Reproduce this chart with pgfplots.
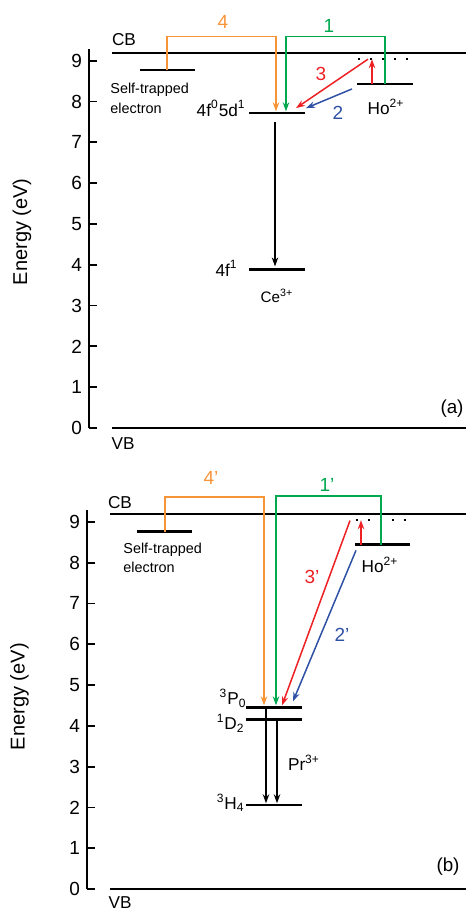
\documentclass[border=0pt]{standalone}
\usepackage{fontspec}
\setmainfont{Liberation Sans}
\usepackage{pgfplots}
\pgfplotsset{compat=1.18}
\usetikzlibrary{arrows.meta}
\definecolor{cor}{RGB}{247,148,56}
\definecolor{cgr}{RGB}{0,168,80}
\definecolor{cre}{RGB}{237,32,36}
\definecolor{cbl}{RGB}{46,80,165}
\begin{document}
\begin{tikzpicture}
\useasboundingbox (0,0) rectangle (233pt,455pt);
\pgfplotsset{
 lvl/.style={line width=1.3pt, black},
 band/.style={line width=1pt, black},
 tr/.style={line width=0.75pt, -{Stealth[length=4.5pt,width=3.2pt]}},
 dots/.style={black, line width=0.9pt, dash pattern=on 0.9pt off 5.1pt},
 myaxis/.style={x=0.5pt, y=20.4pt, ymin=0, ymax=9.28, clip=false,
   axis x line=none, axis y line*=left, ytick={0,...,9},
   tick align=inside, major tick length=4pt,
   axis line style={line width=0.9pt},
   every tick/.style={line width=0.9pt, black},
   yticklabel style={font=\fontsize{9.5}{11}\selectfont},
   /pgf/number format/assume math mode=true,
   ylabel={Energy (eV)},
   ylabel style={font=\fontsize{10}{12}\selectfont, anchor=center},
   anchor=south west}
}
% ---------------- panel (a)
\begin{axis}[myaxis, at={(44.5pt,241pt)}, xmin=89, xmax=466,
  ylabel style={at={(axis description cs:-0.178,0.518)}}]
\addplot[band] coordinates {(112,9.18) (466,9.18)};
\addplot[band] coordinates {(112,0) (466,0)};
\addplot[lvl] coordinates {(140,8.77) (195,8.77)};
\addplot[lvl] coordinates {(249,7.72) (305,7.72)};
\addplot[lvl] coordinates {(249,3.89) (305,3.89)};
\addplot[lvl] coordinates {(357,8.43) (413,8.43)};
\addplot[dots] coordinates {(358,9.05) (412,9.05)};
\addplot[tr, cor] coordinates {(167,8.77) (167,9.59) (276,9.59) (276,7.76)};
\addplot[tr, cgr] coordinates {(385,8.43) (385,9.59) (286,9.59) (286,7.76)};
\addplot[tr, cre] coordinates {(372,8.43) (372,9.04)};
\addplot[tr, cre] coordinates {(368,9.04) (296,7.84)};
\addplot[tr, cbl] coordinates {(352,8.31) (306,7.84)};
\addplot[tr, black] coordinates {(275,7.5) (275,3.96)};
\node[font=\fontsize{9.5}{11}\selectfont, text=cor] at (axis cs:223,9.95) {4};
\node[font=\fontsize{9.5}{11}\selectfont, text=cgr] at (axis cs:329,9.85) {1};
\node[font=\fontsize{9.5}{11}\selectfont, text=cre] at (axis cs:321,8.68) {3};
\node[font=\fontsize{9.5}{11}\selectfont, text=cbl] at (axis cs:338,7.72) {2};
\node[font=\fontsize{8.6}{10}\selectfont] at (axis cs:124,9.51) {CB};
\node[font=\fontsize{8.6}{10}\selectfont] at (axis cs:123,-0.39) {VB};
\node[font=\fontsize{9.4}{11}\selectfont] at (axis cs:452,0.47) {(a)};
\node[font=\fontsize{7.2}{9}\selectfont, anchor=west, inner sep=0pt] at (axis cs:110,8.28) {Self-trapped};
\node[font=\fontsize{7.2}{9}\selectfont, anchor=west, inner sep=0pt] at (axis cs:110,7.84) {electron};
\node[font=\fontsize{8.6}{10}\selectfont, anchor=east, inner sep=0pt] at (axis cs:246,7.84) {4f\textsuperscript{0}5d\textsuperscript{1}};
\node[font=\fontsize{8.6}{10}\selectfont, anchor=east, inner sep=0pt] at (axis cs:238,3.92) {4f\textsuperscript{1}};
\node[font=\fontsize{7.6}{9}\selectfont] at (axis cs:277,3.24) {Ce\textsuperscript{3+}};
\node[font=\fontsize{8.6}{10}\selectfont] at (axis cs:386,7.87) {Ho\textsuperscript{2+}};
\end{axis}
% ---------------- panel (b)
\begin{axis}[myaxis, at={(43.5pt,10.5pt)}, xmin=87, xmax=466,
  ylabel style={at={(axis description cs:-0.178,0.508)}}]
\addplot[band] coordinates {(110,9.2) (466,9.2)};
\addplot[band] coordinates {(110,0) (466,0)};
\addplot[lvl] coordinates {(137,8.76) (192,8.76)};
\addplot[lvl] coordinates {(246,4.45) (302,4.45)};
\addplot[lvl] coordinates {(246,4.15) (302,4.15)};
\addplot[lvl] coordinates {(246,2.06) (302,2.06)};
\addplot[lvl] coordinates {(355,8.44) (410,8.44)};
\addplot[dots] coordinates {(356,9.05) (407,9.05)};
\addplot[tr, cor] coordinates {(165,8.76) (165,9.61) (264,9.61) (264,4.5)};
\addplot[tr, cgr] coordinates {(381,8.44) (381,9.63) (276,9.63) (276,4.5)};
\addplot[tr, cre] coordinates {(361,8.44) (361,9.04)};
\addplot[tr, cre] coordinates {(350,9.03) (282,4.5)};
\addplot[tr, cbl] coordinates {(356,8.3) (293,4.6)};
\addplot[tr, black] coordinates {(266,4.45) (266,2.1)};
\addplot[tr, black] coordinates {(277,4.15) (277,2.1)};
\node[font=\fontsize{9.5}{11}\selectfont, text=cor] at (axis cs:211,10.07) {4'};
\node[font=\fontsize{9.5}{11}\selectfont, text=cgr] at (axis cs:327,9.90) {1'};
\node[font=\fontsize{9.5}{11}\selectfont, text=cre] at (axis cs:312,7.65) {3'};
\node[font=\fontsize{9.5}{11}\selectfont, text=cbl] at (axis cs:342,6.23) {2'};
\node[font=\fontsize{8.6}{10}\selectfont] at (axis cs:120,9.46) {CB};
\node[font=\fontsize{8.6}{10}\selectfont] at (axis cs:120,-0.34) {VB};
\node[font=\fontsize{9.4}{11}\selectfont] at (axis cs:448,0.54) {(b)};
\node[font=\fontsize{7.2}{9}\selectfont, anchor=west, inner sep=0pt] at (axis cs:123,8.31) {Self-trapped};
\node[font=\fontsize{7.2}{9}\selectfont, anchor=west, inner sep=0pt] at (axis cs:123,7.89) {electron};
\node[font=\fontsize{8.6}{10}\selectfont] at (axis cs:380,7.94) {Ho\textsuperscript{2+}};
\node[font=\fontsize{8.6}{10}\selectfont, anchor=east, inner sep=0pt] at (axis cs:247,4.68) {\textsuperscript{3}P\textsubscript{0}};
\node[font=\fontsize{8.6}{10}\selectfont, anchor=east, inner sep=0pt] at (axis cs:245,4.07) {\textsuperscript{1}D\textsubscript{2}};
\node[font=\fontsize{8.6}{10}\selectfont, anchor=east, inner sep=0pt] at (axis cs:245,2.11) {\textsuperscript{3}H\textsubscript{4}};
\node[font=\fontsize{8.6}{10}\selectfont] at (axis cs:304,3.09) {Pr\textsuperscript{3+}};
\end{axis}
\end{tikzpicture}
\end{document}
